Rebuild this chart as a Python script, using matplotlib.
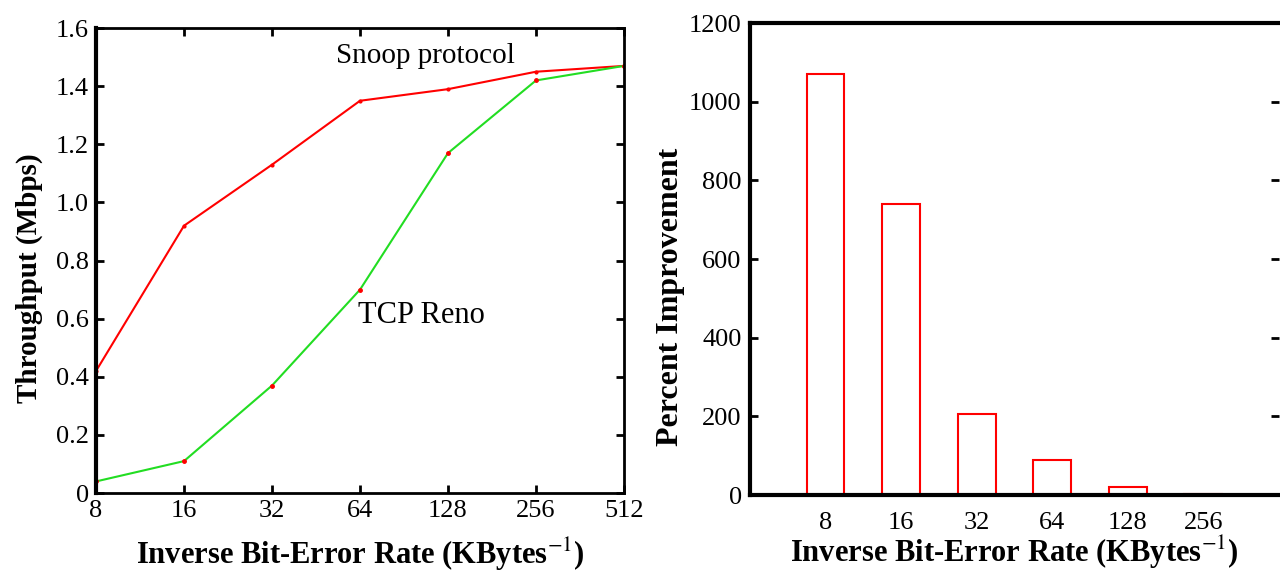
import numpy as np
from matplotlib import pyplot as plt

plt.rcParams['font.family'] = ['Liberation Serif', 'DejaVu Serif']
plt.rcParams['mathtext.fontset'] = 'stix'

ber_labels = ['8', '16', '32', '64', '128', '256', '512']
snoop_tput = [0.42, 0.92, 1.13, 1.35, 1.39, 1.45, 1.47]
reno_tput = [0.04, 0.11, 0.37, 0.70, 1.17, 1.42, 1.47]

bar_labels = ['8', '16', '32', '64', '128', '256']
improvement = [1070, 740, 205, 90, 20, 2]

fig = plt.figure(figsize=(12.8, 5.74), dpi=100)
ax1 = fig.add_axes([0.075, 0.141, 0.4125, 0.810])
ax2 = fig.add_axes([0.586, 0.1376, 0.413, 0.822])

x = np.arange(len(ber_labels))
ax1.plot(x, snoop_tput, color='red', lw=1.5, marker='.', ms=4, mfc='red', mec='red')
ax1.plot(x, reno_tput, color='#22dd22', lw=1.5, marker='.', ms=5, mfc='red', mec='red')
ax1.set_xlim(0, len(ber_labels) - 1)
ax1.set_ylim(0, 1.6)
ax1.set_xticks(x)
ax1.set_xticklabels(ber_labels)
ax1.set_yticks([0, 0.2, 0.4, 0.6, 0.8, 1.0, 1.2, 1.4, 1.6])
ax1.set_yticklabels(['0', '0.2', '0.4', '0.6', '0.8', '1.0', '1.2', '1.4', '1.6'])
ax1.tick_params(direction='in', top=True, right=True, length=6, width=2, labelsize=19, pad=5)
for s in ax1.spines.values():
    s.set_linewidth(2)
ax1.spines['left'].set_linewidth(3)
ax1.set_ylabel('Throughput (Mbps)', fontsize=21, fontweight='bold')
ax1.yaxis.set_label_coords(-0.100, 0.462)
ax1.set_xlabel('Inverse Bit-Error Rate (KBytes$^{-1}$)', fontsize=22, fontweight='bold', labelpad=10)
ax1.text(3.74, 1.503, 'Snoop protocol', fontsize=21, ha='center', va='center')
ax1.text(3.70, 0.611, 'TCP Reno', fontsize=22, ha='center', va='center')

xb = np.arange(1, len(bar_labels) + 1)
ax2.bar(xb, improvement, width=0.5, facecolor='white', edgecolor='red', lw=1.5)
ax2.set_xlim(0, 7)
ax2.set_ylim(0, 1200)
ax2.set_xticks(xb)
ax2.set_xticklabels(bar_labels)
ax2.set_yticks(np.arange(0, 1201, 200))
ax2.tick_params(axis='x', length=0, labelsize=19, pad=12)
ax2.tick_params(axis='y', direction='in', right=True, length=6, width=2, labelsize=19, pad=6)
for s in ax2.spines.values():
    s.set_linewidth(3)
ax2.spines['right'].set_visible(False)
ax2.set_ylabel('Percent Improvement', fontsize=23, fontweight='bold')
ax2.yaxis.set_label_coords(-0.123, 0.42)
ax2.set_xlabel('Inverse Bit-Error Rate (KBytes$^{-1}$)', fontsize=22, fontweight='bold', labelpad=0)

fig.savefig('out.png', dpi=100)
